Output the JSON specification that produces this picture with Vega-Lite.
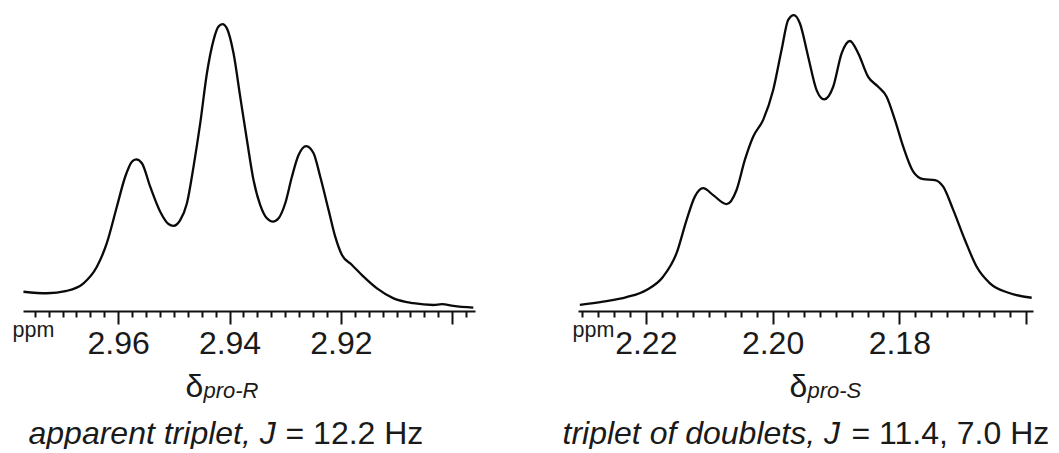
{
  "$schema": "https://vega.github.io/schema/vega-lite/v6.json",
  "background": "white",
  "padding": {"left": 12, "top": 10, "right": 4, "bottom": 0},
  "bounds": "flush",
  "spacing": 103,
  "datasets": {
    "proR": [
      {"ppm": 2.97702, "intensity": 0.064}, {"ppm": 2.97281, "intensity": 0.059}, {"ppm": 2.96922, "intensity": 0.067},
      {"ppm": 2.96623, "intensity": 0.092}, {"ppm": 2.96383, "intensity": 0.147}, {"ppm": 2.96203, "intensity": 0.226},
      {"ppm": 2.96023, "intensity": 0.347}, {"ppm": 2.95874, "intensity": 0.446}, {"ppm": 2.95754, "intensity": 0.496},
      {"ppm": 2.95677, "intensity": 0.504}, {"ppm": 2.95574, "intensity": 0.491}, {"ppm": 2.95425, "intensity": 0.413},
      {"ppm": 2.95245, "intensity": 0.330}, {"ppm": 2.95096, "intensity": 0.289}, {"ppm": 2.95006, "intensity": 0.283},
      {"ppm": 2.94886, "intensity": 0.302}, {"ppm": 2.94765, "intensity": 0.358}, {"ppm": 2.94647, "intensity": 0.479},
      {"ppm": 2.94526, "intensity": 0.624}, {"ppm": 2.94406, "intensity": 0.790}, {"ppm": 2.94287, "intensity": 0.900},
      {"ppm": 2.94198, "intensity": 0.945}, {"ppm": 2.94126, "intensity": 0.953}, {"ppm": 2.94047, "intensity": 0.939},
      {"ppm": 2.93928, "intensity": 0.856}, {"ppm": 2.93808, "intensity": 0.712}, {"ppm": 2.93687, "intensity": 0.568},
      {"ppm": 2.93569, "intensity": 0.435}, {"ppm": 2.93448, "intensity": 0.352}, {"ppm": 2.93328, "intensity": 0.308},
      {"ppm": 2.93220, "intensity": 0.297}, {"ppm": 2.93119, "intensity": 0.308}, {"ppm": 2.92999, "intensity": 0.358},
      {"ppm": 2.92879, "intensity": 0.446}, {"ppm": 2.92760, "intensity": 0.518}, {"ppm": 2.92622, "intensity": 0.548},
      {"ppm": 2.92490, "intensity": 0.524}, {"ppm": 2.92370, "intensity": 0.446}, {"ppm": 2.92221, "intensity": 0.336},
      {"ppm": 2.92101, "intensity": 0.247}, {"ppm": 2.91980, "intensity": 0.186}, {"ppm": 2.91800, "intensity": 0.153},
      {"ppm": 2.91592, "intensity": 0.114}, {"ppm": 2.91351, "intensity": 0.075}, {"ppm": 2.91053, "intensity": 0.042},
      {"ppm": 2.90699, "intensity": 0.026}, {"ppm": 2.90340, "intensity": 0.020}, {"ppm": 2.90183, "intensity": 0.023},
      {"ppm": 2.89980, "intensity": 0.017}, {"ppm": 2.89621, "intensity": 0.011}
    ],
    "proS": [
      {"ppm": 2.23041, "intensity": 0.020}, {"ppm": 2.22674, "intensity": 0.031}, {"ppm": 2.22304, "intensity": 0.046},
      {"ppm": 2.21989, "intensity": 0.070}, {"ppm": 2.21727, "intensity": 0.114}, {"ppm": 2.21515, "intensity": 0.192},
      {"ppm": 2.21357, "intensity": 0.302}, {"ppm": 2.21226, "intensity": 0.380}, {"ppm": 2.21095, "intensity": 0.408},
      {"ppm": 2.20937, "intensity": 0.385}, {"ppm": 2.20726, "intensity": 0.355}, {"ppm": 2.20568, "intensity": 0.402},
      {"ppm": 2.20437, "intensity": 0.502}, {"ppm": 2.20306, "intensity": 0.579}, {"ppm": 2.20148, "intensity": 0.635},
      {"ppm": 2.19990, "intensity": 0.734}, {"ppm": 2.19858, "intensity": 0.867}, {"ppm": 2.19753, "intensity": 0.967},
      {"ppm": 2.19663, "intensity": 0.983}, {"ppm": 2.19569, "intensity": 0.956}, {"ppm": 2.19438, "intensity": 0.845},
      {"ppm": 2.19305, "intensity": 0.734}, {"ppm": 2.19185, "intensity": 0.703}, {"ppm": 2.19043, "intensity": 0.745},
      {"ppm": 2.18910, "intensity": 0.856}, {"ppm": 2.18779, "intensity": 0.897}, {"ppm": 2.18648, "intensity": 0.856},
      {"ppm": 2.18491, "intensity": 0.778}, {"ppm": 2.18333, "intensity": 0.745}, {"ppm": 2.18200, "intensity": 0.712},
      {"ppm": 2.18069, "intensity": 0.635}, {"ppm": 2.17938, "intensity": 0.546}, {"ppm": 2.17780, "intensity": 0.463},
      {"ppm": 2.17622, "intensity": 0.438}, {"ppm": 2.17438, "intensity": 0.435}, {"ppm": 2.17307, "intensity": 0.413},
      {"ppm": 2.17149, "intensity": 0.336}, {"ppm": 2.16964, "intensity": 0.236}, {"ppm": 2.16779, "intensity": 0.147},
      {"ppm": 2.16569, "intensity": 0.092}, {"ppm": 2.16254, "intensity": 0.059}, {"ppm": 2.15911, "intensity": 0.044}
    ]
  },
  "hconcat": [
    {
      "width": 452,
      "height": 301,
      "data": {"name": "proR"},
      "resolve": {"scale": {"x": "independent", "y": "independent"}, "axis": {"x": "independent", "y": "independent"}},
      "layer": [
        {
          "mark": {"type": "line", "interpolate": "monotone", "stroke": "#0a0a0a", "strokeWidth": 2.3},
          "encoding": {
            "x": {"field": "ppm", "type": "quantitative",
              "scale": {"domain": [2.8959, 2.9771], "reverse": true, "nice": false, "zero": false},
              "axis": {"orient": "bottom", "values": [2.96, 2.94, 2.92, 2.90], "tickSize": 13, "tickWidth": 2, "tickColor": "#111",
                "domain": true, "domainWidth": 2, "domainColor": "#111", "grid": false,
                "labelExpr": "datum.value > 2.91 ? format(datum.value, '.2f') : ''",
                "labelFontSize": 32, "labelColor": "#1a1a1a", "labelPadding": 4, "labelFlush": false, "labelOverlap": false,
                "title": "δ", "titleFontSize": 32, "titleFontWeight": "normal", "titleColor": "#1a1a1a",
                "titleX": 162, "titleY": 85, "titleAlign": "left", "titleBaseline": "alphabetic"}},
            "y": {"field": "intensity", "type": "quantitative",
              "scale": {"domain": [0, 1], "nice": false, "zero": false},
              "axis": {"orient": "left", "domain": false, "ticks": false, "labels": false, "grid": false,
                "title": "ppm", "titleFontSize": 21.5, "titleFontWeight": "normal", "titleColor": "#1a1a1a", "titleAngle": 0,
                "titleX": -11, "titleY": 326, "titleAlign": "left", "titleBaseline": "alphabetic"}}
          }
        },
        {
          "mark": {"type": "line", "interpolate": "monotone", "strokeOpacity": 0},
          "encoding": {
            "x": {"field": "ppm", "type": "quantitative",
              "scale": {"domain": [2.8959, 2.9771], "reverse": true, "nice": false, "zero": false},
              "axis": {"orient": "bottom", "values": [2.975, 2.9725, 2.97, 2.9675, 2.965, 2.9625, 2.9575, 2.955, 2.9525, 2.95, 2.9475, 2.945, 2.9425, 2.9375, 2.935, 2.9325, 2.93, 2.9275, 2.925, 2.9225, 2.9175, 2.915, 2.9125, 2.91, 2.9075, 2.905, 2.9025, 2.8975],
                "tickSize": 6, "tickWidth": 2, "tickColor": "#111", "domain": false, "labels": false, "grid": false,
                "title": "pro-R", "titleFontSize": 22, "titleFontStyle": "italic", "titleFontWeight": "normal", "titleColor": "#1a1a1a",
                "titleX": 180, "titleY": 86, "titleAlign": "left", "titleBaseline": "alphabetic"}},
            "y": {"field": "intensity", "type": "quantitative",
              "scale": {"domain": [0, 1], "nice": false, "zero": false},
              "axis": {"orient": "left", "domain": false, "ticks": false, "labels": false, "grid": false,
                "title": "apparent triplet, J", "titleFontSize": 32, "titleFontStyle": "italic", "titleFontWeight": "normal", "titleColor": "#1a1a1a", "titleAngle": 0,
                "titleX": 5, "titleY": 433, "titleAlign": "left", "titleBaseline": "alphabetic"}}
          }
        },
        {
          "mark": {"type": "line", "interpolate": "monotone", "strokeOpacity": 0},
          "encoding": {
            "x": {"field": "ppm", "type": "quantitative",
              "scale": {"domain": [2.8959, 2.9771], "reverse": true, "nice": false, "zero": false},
              "axis": {"orient": "bottom", "domain": false, "ticks": false, "labels": false, "grid": false,
                "title": "= 12.2 Hz", "titleFontSize": 32, "titleFontWeight": "normal", "titleColor": "#1a1a1a",
                "titleX": 262, "titleY": 132, "titleAlign": "left", "titleBaseline": "alphabetic"}},
            "y": {"field": "intensity", "type": "quantitative",
              "scale": {"domain": [0, 1], "nice": false, "zero": false}, "axis": null}
          }
        }
      ]
    },
    {
      "width": 455,
      "height": 301,
      "data": {"name": "proS"},
      "resolve": {"scale": {"x": "independent", "y": "independent"}, "axis": {"x": "independent", "y": "independent"}},
      "layer": [
        {
          "mark": {"type": "line", "interpolate": "monotone", "stroke": "#0a0a0a", "strokeWidth": 2.3},
          "encoding": {
            "x": {"field": "ppm", "type": "quantitative",
              "scale": {"domain": [2.1589, 2.2307], "reverse": true, "nice": false, "zero": false},
              "axis": {"orient": "bottom", "values": [2.22, 2.20, 2.18, 2.16], "tickSize": 13, "tickWidth": 2, "tickColor": "#111",
                "domain": true, "domainWidth": 2, "domainColor": "#111", "grid": false,
                "labelExpr": "datum.value > 2.17 ? format(datum.value, '.2f') : ''",
                "labelFontSize": 32, "labelColor": "#1a1a1a", "labelPadding": 4, "labelFlush": false, "labelOverlap": false,
                "title": "δ", "titleFontSize": 32, "titleFontWeight": "normal", "titleColor": "#1a1a1a",
                "titleX": 211, "titleY": 85, "titleAlign": "left", "titleBaseline": "alphabetic"}},
            "y": {"field": "intensity", "type": "quantitative",
              "scale": {"domain": [0, 1], "nice": false, "zero": false},
              "axis": {"orient": "left", "domain": false, "ticks": false, "labels": false, "grid": false,
                "title": "ppm", "titleFontSize": 21.5, "titleFontWeight": "normal", "titleColor": "#1a1a1a", "titleAngle": 0,
                "titleX": -6, "titleY": 326, "titleAlign": "left", "titleBaseline": "alphabetic"}}
          }
        },
        {
          "mark": {"type": "line", "interpolate": "monotone", "strokeOpacity": 0},
          "encoding": {
            "x": {"field": "ppm", "type": "quantitative",
              "scale": {"domain": [2.1589, 2.2307], "reverse": true, "nice": false, "zero": false},
              "axis": {"orient": "bottom", "values": [2.23, 2.2275, 2.225, 2.2225, 2.2175, 2.215, 2.2125, 2.21, 2.2075, 2.205, 2.2025, 2.1975, 2.195, 2.1925, 2.19, 2.1875, 2.185, 2.1825, 2.1775, 2.175, 2.1725, 2.17, 2.1675, 2.165, 2.1625],
                "tickSize": 6, "tickWidth": 2, "tickColor": "#111", "domain": false, "labels": false, "grid": false,
                "title": "pro-S", "titleFontSize": 22, "titleFontStyle": "italic", "titleFontWeight": "normal", "titleColor": "#1a1a1a",
                "titleX": 229, "titleY": 86, "titleAlign": "left", "titleBaseline": "alphabetic"}},
            "y": {"field": "intensity", "type": "quantitative",
              "scale": {"domain": [0, 1], "nice": false, "zero": false},
              "axis": {"orient": "left", "domain": false, "ticks": false, "labels": false, "grid": false,
                "title": "triplet of doublets, J", "titleFontSize": 32, "titleFontStyle": "italic", "titleFontWeight": "normal", "titleColor": "#1a1a1a", "titleAngle": 0,
                "titleX": -16, "titleY": 433, "titleAlign": "left", "titleBaseline": "alphabetic"}}
          }
        },
        {
          "mark": {"type": "line", "interpolate": "monotone", "strokeOpacity": 0},
          "encoding": {
            "x": {"field": "ppm", "type": "quantitative",
              "scale": {"domain": [2.1589, 2.2307], "reverse": true, "nice": false, "zero": false},
              "axis": {"orient": "bottom", "domain": false, "ticks": false, "labels": false, "grid": false,
                "title": "= 11.4, 7.0 Hz", "titleFontSize": 32, "titleFontWeight": "normal", "titleColor": "#1a1a1a",
                "titleX": 273, "titleY": 132, "titleAlign": "left", "titleBaseline": "alphabetic"}},
            "y": {"field": "intensity", "type": "quantitative",
              "scale": {"domain": [0, 1], "nice": false, "zero": false}, "axis": null}
          }
        }
      ]
    }
  ],
  "config": {
    "font": "Liberation Sans",
    "view": {"stroke": null},
    "axis": {"labelFont": "Liberation Sans", "titleFont": "Liberation Sans"}
  }
}
